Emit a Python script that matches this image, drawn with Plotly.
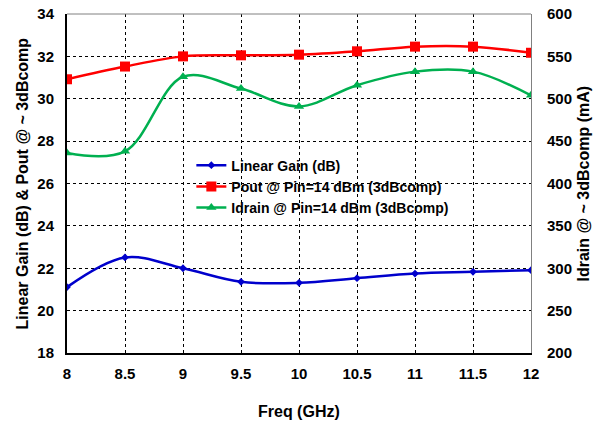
import plotly.graph_objects as go

freq = [8, 8.5, 9, 9.5, 10, 10.5, 11, 11.5, 12]
linear_gain = [21.11, 22.51, 22.0, 21.36, 21.31, 21.53, 21.75, 21.83, 21.91]
pout = [30.92, 31.52, 32.0, 32.05, 32.08, 32.24, 32.46, 32.46, 32.17]
idrain = [436, 438, 526, 512, 491, 516, 532, 532, 504]

x_ticks = [8, 8.5, 9, 9.5, 10, 10.5, 11, 11.5, 12]
y_left_ticks = [18, 20, 22, 24, 26, 28, 30, 32, 34]
y_right_ticks = [200, 250, 300, 350, 400, 450, 500, 550, 600]

font_family = "Liberation Sans, Arial, sans-serif"

fig = go.Figure()
fig.add_trace(go.Scatter(
    x=freq, y=linear_gain, name="<b>Linear Gain (dB)</b>",
    mode="lines+markers", line=dict(color="#0000CC", width=2.5, shape="spline"),
    marker=dict(symbol="diamond", size=6, color="#0000CC"),
))
fig.add_trace(go.Scatter(
    x=freq, y=pout, name="<b>Pout @ Pin=14 dBm (3dBcomp)</b>",
    mode="lines+markers", line=dict(color="#FF0000", width=2.5, shape="spline"),
    marker=dict(symbol="square", size=10, color="#FF0000"),
))
fig.add_trace(go.Scatter(
    x=freq, y=idrain, name="<b>Idrain @ Pin=14 dBm (3dBcomp)</b>", yaxis="y2",
    mode="lines+markers", line=dict(color="#00B050", width=2.5, shape="spline"),
    marker=dict(symbol="triangle-up", size=9, color="#00B050"),
))

fig.update_layout(
    width=602, height=421,
    margin=dict(l=67, r=71, t=14, b=68, autoexpand=False),
    paper_bgcolor="white", plot_bgcolor="white",
    font=dict(family=font_family, size=15, color="black"),
    showlegend=True,
    legend=dict(x=0.268, y=0.60, xanchor="left", yanchor="top",
                bgcolor="rgba(0,0,0,0)", font=dict(size=14, color="black"),
                itemwidth=30, tracegroupgap=0),
    xaxis=dict(
        range=[8, 12], tickvals=x_ticks, ticktext=[f"<b>{t:g}</b>" for t in x_ticks],
        showgrid=True, gridcolor="black", griddash="dot", gridwidth=1,
        showline=True, linecolor="black", linewidth=2, mirror=False,
        ticks="", zeroline=False, ticklabelstandoff=6, automargin=False,
    ),
    yaxis=dict(
        range=[18, 34], tickvals=y_left_ticks, ticktext=[f"<b>{t}</b>" for t in y_left_ticks],
        showgrid=True, gridcolor="black", griddash="dot", gridwidth=1,
        showline=True, linecolor="black", linewidth=2,
        ticks="", zeroline=False, ticklabelstandoff=8, automargin=False,
    ),
    yaxis2=dict(
        range=[200, 600], tickvals=y_right_ticks, ticktext=[f"<b>{t}</b>" for t in y_right_ticks],
        overlaying="y", side="right", showgrid=False,
        showline=True, linecolor="#808080", linewidth=1,
        ticks="", zeroline=False, ticklabelstandoff=12, automargin=False,
    ),
    shapes=[dict(type="line", xref="paper", yref="paper", x0=0, x1=1, y0=1, y1=1,
                 line=dict(color="#808080", width=1))],
    annotations=[
        dict(text="<b>Freq (GHz)</b>", xref="paper", yref="paper",
             x=0.5, y=-(411 - 353) / 339, xanchor="center", yanchor="middle",
             showarrow=False, font=dict(size=16)),
        dict(text="<b>Linear Gain (dB) & Pout @ ~ 3dBcomp</b>", xref="paper", yref="paper",
             x=(22 - 67) / 464, y=0.5, xanchor="center", yanchor="middle", textangle=-90,
             showarrow=False, font=dict(size=16)),
        dict(text="<b>Idrain @ ~ 3dBcomp (mA)</b>", xref="paper", yref="paper",
             x=(583 - 67) / 464, y=0.5, xanchor="center", yanchor="middle", textangle=-90,
             showarrow=False, font=dict(size=16)),
    ],
)

fig.write_html("out.html")
